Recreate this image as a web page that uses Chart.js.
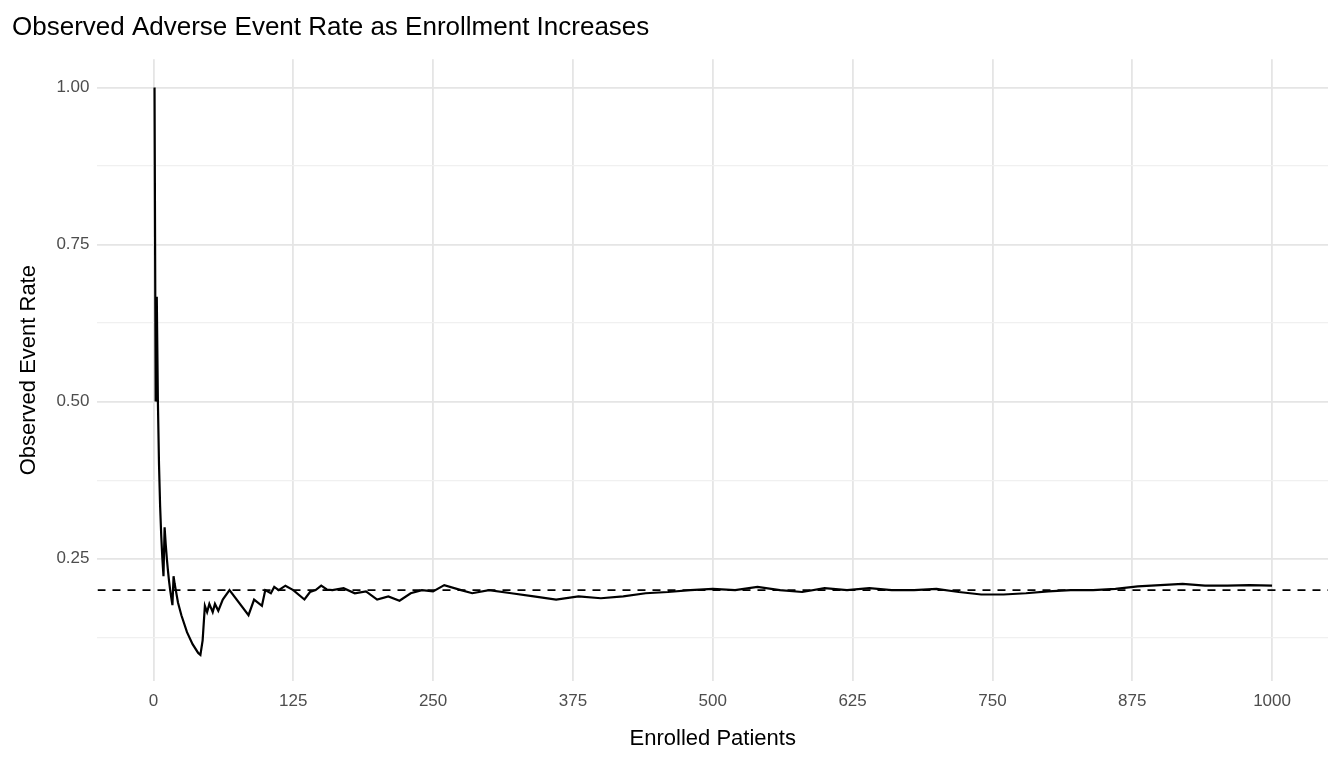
<!DOCTYPE html>
<html><head>
<script src="https://cdn.jsdelivr.net/npm/chart.js@4"></script>
<style>body{margin:0;background:#fff}#wrap{width:1344px;height:768px}</style>
</head><body><div id="wrap"><canvas id="c"></canvas></div>
<script>
const patients = [1,2,3,4,5,6,7,8,9,10,11,12,13,14,15,16,17,18,19,20,22,25,30,35,40,42,44,46,48,50,53,55,58,62,68,85,90,97,100,105,108,112,118,125,135,140,145,150,155,160,170,180,190,200,210,220,230,240,250,260,275,285,300,320,340,360,380,400,420,440,460,480,500,520,540,560,580,600,620,640,660,680,700,720,740,760,780,800,820,840,860,880,900,920,940,960,980,1000];
const rate = [1.0,0.5,0.667,0.5,0.4,0.333,0.286,0.25,0.222,0.3,0.273,0.25,0.231,0.214,0.2,0.1875,0.176,0.222,0.21,0.2,0.18,0.16,0.133,0.114,0.1,0.097,0.12,0.175,0.165,0.178,0.165,0.178,0.167,0.185,0.2,0.16,0.185,0.175,0.2,0.195,0.205,0.2,0.207,0.2,0.185,0.197,0.2,0.207,0.201,0.2,0.203,0.195,0.198,0.185,0.19,0.183,0.195,0.2,0.198,0.208,0.2,0.195,0.2,0.195,0.19,0.185,0.19,0.187,0.19,0.195,0.197,0.2,0.202,0.2,0.205,0.2,0.197,0.203,0.2,0.203,0.2,0.2,0.202,0.197,0.193,0.193,0.195,0.198,0.2,0.2,0.202,0.206,0.208,0.21,0.207,0.207,0.208,0.207];
const target = 0.2;
const xTicks = [0,125,250,375,500,625,750,875,1000];
const yTicks = [0.125,0.25,0.375,0.5,0.625,0.75,0.875,1.0];

const major = v => Math.round(v*1000) % 250 === 0;
const font = 'Liberation Sans, Arial';

new Chart(document.getElementById('c'), {
  type: 'line',
  data: { datasets: [
    { data: patients.map((p,i)=>({x:p,y:rate[i]})), borderColor:'#000', borderWidth:2.2, pointRadius:0, tension:0 },
    { data: [{x:-50,y:target},{x:1050,y:target}], borderColor:'#000', borderWidth:1.8, borderDash:[8,7], pointRadius:0 }
  ]},
  options: {
    responsive:true, maintainAspectRatio:false, animation:false,
    layout:{padding:{left:12,right:16,top:12,bottom:12}},
    plugins:{legend:{display:false},tooltip:{enabled:false},
      title:{display:true,text:'Observed Adverse Event Rate as Enrollment Increases',align:'start',
        color:'#000',font:{family:font,size:26,weight:'normal'},padding:{top:0,bottom:16}}},
    scales:{
      x:{type:'linear',min:-50,max:1050,
        afterBuildTicks:a=>{a.ticks=xTicks.map(v=>({value:v}));},
        border:{display:false},
        grid:{color:c=>major(c.tick.value)?'#e5e5e5':'#f0f0f0',lineWidth:c=>major(c.tick.value)?1.8:1.2,drawTicks:false},
        ticks:{color:'#4d4d4d',font:{family:font,size:17},padding:10,autoSkip:false,
          callback:v=>major(v)?String(v):''},
        title:{display:true,text:'Enrolled Patients',color:'#000',font:{family:font,size:22},padding:{top:4}}},
      y:{type:'linear',min:0.055,max:1.045,
        afterBuildTicks:a=>{a.ticks=yTicks.map(v=>({value:v}));},
        border:{display:false},
        grid:{color:c=>major(c.tick.value)?'#e5e5e5':'#f0f0f0',lineWidth:c=>major(c.tick.value)?1.8:1.2,drawTicks:false},
        ticks:{color:'#4d4d4d',font:{family:font,size:17},padding:8,autoSkip:false,
          callback:v=>major(v)?v.toFixed(2):''},
        title:{display:true,text:'Observed Event Rate',color:'#000',font:{family:font,size:22},padding:{bottom:6}}}
    }
  }
});
</script></body></html>
